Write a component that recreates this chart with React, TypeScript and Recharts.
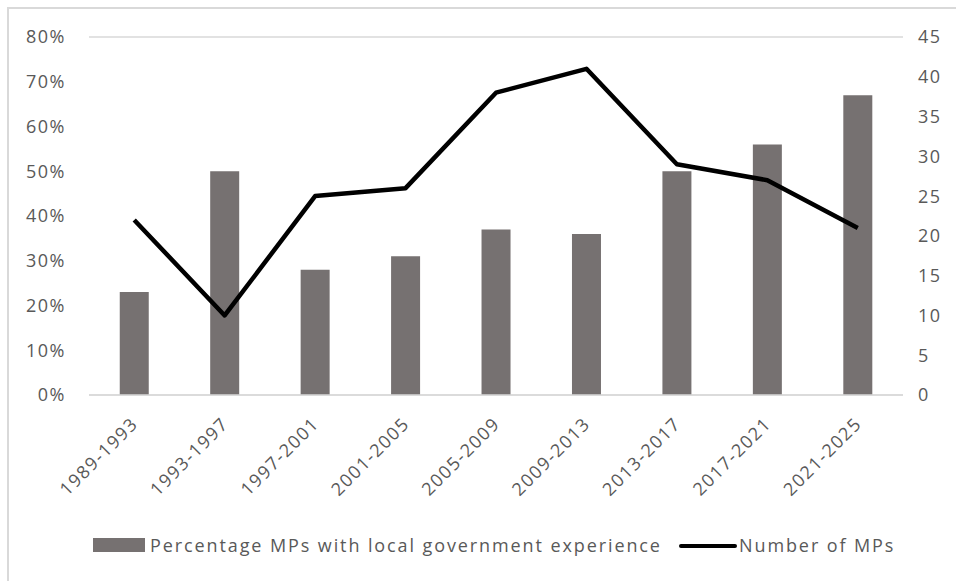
import React from "react";
import { ComposedChart, Bar, Line, XAxis, YAxis, CartesianGrid } from "recharts";

const periods = [
  "1989-1993",
  "1993-1997",
  "1997-2001",
  "2001-2005",
  "2005-2009",
  "2009-2013",
  "2013-2017",
  "2017-2021",
  "2021-2025",
];
const pctLocalGov = [0.23, 0.5, 0.28, 0.31, 0.37, 0.36, 0.5, 0.56, 0.67];
const numberOfMPs = [22, 10, 25, 26, 38, 41, 29, 27, 21];
const pctTicks = [0, 0.1, 0.2, 0.3, 0.4, 0.5, 0.6, 0.7, 0.8];
const countTicks = [0, 5, 10, 15, 20, 25, 30, 35, 40, 45];

const data = periods.map((p, i) => ({
  period: p,
  pct: pctLocalGov[i],
  mps: numberOfMPs[i],
}));

const FONT = "'Open Sans', sans-serif";
const TEXT = "#595959";
const BAR = "#767171";
const SPACING = 1.5;

function PeriodTick(props: any) {
  const { x, y, payload } = props;
  const px = x + 5;
  const py = y + 22;
  return (
    <text
      x={px}
      y={py}
      transform={`rotate(-45, ${px}, ${py})`}
      textAnchor="end"
      fill={TEXT}
      fontSize={18}
      fontFamily={FONT}
      letterSpacing={SPACING}
    >
      {payload.value}
    </text>
  );
}

function ChartLegend() {
  return (
    <div
      style={{
        position: "absolute",
        left: 0,
        top: 531,
        width: 956,
        height: 30,
        fontFamily: FONT,
        fontSize: 18,
        letterSpacing: 1.9,
        color: TEXT,
        lineHeight: "24px",
      }}
    >
      <div style={{ position: "absolute", left: 93, top: 7, width: 52, height: 14, background: BAR }} />
      <div style={{ position: "absolute", left: 150, top: 2, whiteSpace: "nowrap" }}>
        Percentage MPs with local government experience
      </div>
      <div
        style={{
          position: "absolute",
          left: 679,
          top: 13,
          width: 58,
          height: 4,
          borderRadius: 2,
          background: "#000",
        }}
      />
      <div style={{ position: "absolute", left: 739, top: 2, whiteSpace: "nowrap" }}>Number of MPs</div>
    </div>
  );
}

export default function App() {
  return (
    <div
      style={{
        position: "absolute",
        left: 0,
        top: 0,
        width: 956,
        height: 581,
        overflow: "hidden",
        background: "#fff",
      }}
    >
      <div
        style={{
          position: "absolute",
          left: 7,
          top: 7,
          width: 960,
          height: 590,
          borderLeft: "2px solid #d9d9d9",
          borderTop: "2px solid #d9d9d9",
        }}
      />
      <ComposedChart
        width={956}
        height={581}
        data={data}
        margin={{ top: 37, right: 0, bottom: 0, left: 0 }}
        barCategoryGap="34%"
        style={{ position: "absolute", left: 0, top: 0 }}
      >
        <CartesianGrid vertical={false} stroke="#d9d9d9" strokeWidth={1.5} />
        <XAxis
          dataKey="period"
          tick={<PeriodTick />}
          tickLine={false}
          axisLine={{ stroke: "#d9d9d9", strokeWidth: 1.5 }}
          interval={0}
          height={186}
        />
        <YAxis
          yAxisId="left"
          width={89}
          domain={[0, 0.8]}
          ticks={pctTicks}
          interval={0}
          tickFormatter={(v: number) => `${Math.round(v * 100)}%`}
          axisLine={false}
          tickLine={false}
          tickSize={0}
          tickMargin={23}
          tick={{ fill: TEXT, fontSize: 18, fontFamily: FONT, letterSpacing: SPACING }}
        />
        <YAxis
          yAxisId="right"
          orientation="right"
          width={53}
          domain={[0, 45]}
          ticks={countTicks}
          interval={0}
          axisLine={false}
          tickLine={false}
          tickSize={0}
          tickMargin={15}
          tick={{ fill: TEXT, fontSize: 18, fontFamily: FONT, letterSpacing: SPACING, textAnchor: "start" }}
        />
        <Bar yAxisId="left" dataKey="pct" fill={BAR} isAnimationActive={false} />
        <Line
          yAxisId="right"
          dataKey="mps"
          type="linear"
          stroke="#000"
          strokeWidth={4.5}
          dot={false}
          strokeLinejoin="round"
          isAnimationActive={false}
        />
      </ComposedChart>
      <ChartLegend />
    </div>
  );
}
